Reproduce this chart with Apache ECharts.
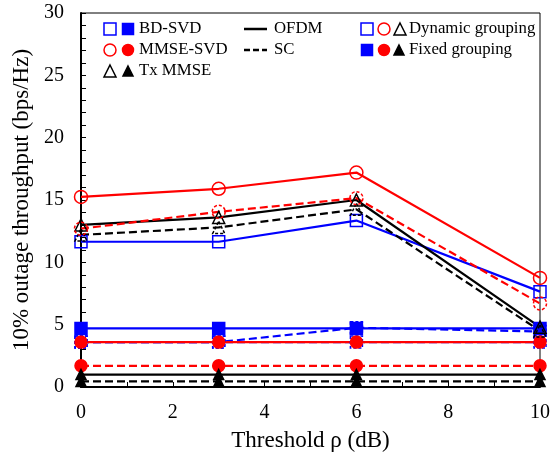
<!DOCTYPE html>
<html>
<head>
<meta charset="utf-8">
<script src="https://cdn.jsdelivr.net/npm/echarts@6/dist/echarts.min.js"></script>
<style>html,body{margin:0;padding:0;background:#fff}#c{width:560px;height:460px}</style>
</head>
<body>
<div id="c"></div>
<script>
// ---- data ----
const xValues = [0, 3, 6, 10];
const bdSvdOfdmDyn   = [11.65, 11.65, 13.35, 7.65];
const bdSvdScDyn     = [3.6, 3.6, 4.75, 4.45];
const mmseSvdOfdmDyn = [15.25, 15.9, 17.2, 8.75];
const mmseSvdScDyn   = [12.7, 14.05, 15.15, 6.7];
const txMmseOfdmDyn  = [13.0, 13.6, 15.0, 4.8];
const txMmseScDyn    = [12.2, 12.8, 14.25, 4.5];
const bdSvdOfdmFix   = [4.7, 4.7, 4.7, 4.7];
const bdSvdScFix     = [3.6, 3.6, 3.6, 3.6];
const mmseSvdOfdmFix = [3.6, 3.6, 3.6, 3.6];
const mmseSvdScFix   = [1.7, 1.7, 1.7, 1.7];
const txMmseOfdmFix  = [1.0, 1.0, 1.0, 1.0];
const txMmseScFix    = [0.45, 0.45, 0.45, 0.45];
const xTickLabels = [0, 2, 4, 6, 8, 10];
const yTickLabels = [0, 5, 10, 15, 20, 25, 30];

const FONT = 'Liberation Serif';
const BLUE = '#0000ff', RED = '#ff0000', BLACK = '#000000';

function mk(name, vals, color, dashed, symbol, filled, size) {
  return {
    name: name,
    type: 'line',
    data: xValues.map((x, i) => [x, vals[i]]),
    symbol: symbol,
    symbolSize: size,
    showAllSymbol: true,
    lineStyle: { color: color, width: 2.2, type: dashed ? [8, 4] : 'solid' },
    itemStyle: {
      color: filled ? color : 'rgba(255,255,255,0)',
      borderColor: color,
      borderWidth: 1.5,
      borderType: (dashed && !filled) ? [3, 2] : 'solid'
    },
    emphasis: { disabled: true },
    animation: false
  };
}

const series = [
  mk('BD-SVD SC fixed', bdSvdScFix, BLUE, true, 'rect', false, 12),
  mk('BD-SVD SC dyn', bdSvdScDyn, BLUE, true, 'rect', false, 12),
  mk('MMSE-SVD OFDM fixed', mmseSvdOfdmFix, RED, false, 'circle', true, 12),
  mk('MMSE-SVD SC fixed', mmseSvdScFix, RED, true, 'circle', true, 12),
  mk('Tx MMSE OFDM fixed', txMmseOfdmFix, BLACK, false, 'triangle', true, 10),
  mk('Tx MMSE SC fixed', txMmseScFix, BLACK, true, 'triangle', true, 10),
  mk('BD-SVD OFDM fixed', bdSvdOfdmFix, BLUE, false, 'rect', true, 12),
  mk('BD-SVD OFDM dyn', bdSvdOfdmDyn, BLUE, false, 'rect', false, 12),
  mk('Tx MMSE SC dyn', txMmseScDyn, BLACK, true, 'triangle', false, 12),
  mk('Tx MMSE OFDM dyn', txMmseOfdmDyn, BLACK, false, 'triangle', false, 12),
  mk('MMSE-SVD SC dyn', mmseSvdScDyn, RED, true, 'circle', false, 13),
  mk('MMSE-SVD OFDM dyn', mmseSvdOfdmDyn, RED, false, 'circle', false, 13)
];

// ---- legend (drawn as graphic) ----
function sq(cx, cy, s, color, filled) {
  return { type: 'rect', shape: { x: cx - s / 2, y: cy - s / 2, width: s, height: s },
    style: { fill: filled ? color : 'none', stroke: color, lineWidth: 1.5 } };
}
function ci(cx, cy, r, color, filled) {
  return { type: 'circle', shape: { cx: cx, cy: cy, r: r },
    style: { fill: filled ? color : 'none', stroke: color, lineWidth: 1.5 } };
}
function tri(cx, cy, s, color, filled) {
  return { type: 'polygon', shape: { points: [[cx, cy - s / 2], [cx + s / 2, cy + s / 2], [cx - s / 2, cy + s / 2]] },
    style: { fill: filled ? color : 'none', stroke: color, lineWidth: 1.5 } };
}
function tx(x, y, t) {
  return { type: 'text', x: x, y: y,
    style: { text: t, fontFamily: FONT, fontSize: 16.8, fill: '#000', textVerticalAlign: 'middle', textAlign: 'left' } };
}
function ln(x1, x2, y, dashed) {
  return { type: 'line', shape: { x1: x1, y1: y, x2: x2, y2: y },
    style: { stroke: '#000', lineWidth: 2.5, lineDash: dashed ? [6, 3] : null } };
}
const r1 = 29, r2 = 50, r3 = 71;
const legendEls = [
  sq(110, r1, 12, BLUE, false), sq(128, r1, 11, BLUE, true), tx(139, r1, 'BD-SVD'),
  ci(110, r2, 6, RED, false), ci(128, r2, 5.5, RED, true), tx(139, r2, 'MMSE-SVD'),
  tri(110, r3, 12, BLACK, false), tri(128, r3, 10, BLACK, true), tx(139, r3, 'Tx MMSE'),
  ln(244, 267, r1, false), tx(274, r1, 'OFDM'),
  ln(244, 267, r2, true), tx(274, r2, 'SC'),
  sq(367, r1, 12, BLUE, false), ci(384, r1, 6, RED, false), tri(400, r1, 12, BLACK, false), tx(409, r1, 'Dynamic grouping'),
  sq(367, r2, 11, BLUE, true), ci(384, r2, 5.5, RED, true), tri(399, r2, 10, BLACK, true), tx(409, r2, 'Fixed grouping')
];

const chart = echarts.init(document.getElementById('c'), null, { renderer: 'canvas' });
chart.setOption({
  animation: false,
  backgroundColor: '#fff',
  grid: { left: 81, top: 13, right: 20, bottom: 73, show: true, borderColor: '#000', borderWidth: 1, containLabel: false },
  xAxis: {
    type: 'value', min: 0, max: 10, interval: 1,
    axisLine: { show: true, onZero: false, lineStyle: { color: '#000', width: 2 } },
    axisTick: { show: true, inside: true, length: 5, lineStyle: { color: '#000', width: 1 } },
    axisLabel: { formatter: v => (xTickLabels.indexOf(v) >= 0 ? String(v) : ''), fontFamily: FONT, fontSize: 20, color: '#000', margin: 16 },
    splitLine: { show: false },
    name: 'Threshold ρ (dB)', nameLocation: 'middle', nameGap: 42,
    nameTextStyle: { fontFamily: FONT, fontSize: 23, color: '#000', fontWeight: 'normal' }
  },
  yAxis: {
    type: 'value', min: 0, max: 30, interval: 1,
    axisLine: { show: true, onZero: false, lineStyle: { color: '#000', width: 2 } },
    axisTick: { show: true, inside: true, length: 5, lineStyle: { color: '#000', width: 1 } },
    axisLabel: { formatter: v => (yTickLabels.indexOf(v) >= 0 ? String(v) : ''), fontFamily: FONT, fontSize: 20, color: '#000', margin: 17 },
    splitLine: { show: false },
    name: '10% outage throughput (bps/Hz)', nameLocation: 'middle', nameGap: 41, nameRotate: 90,
    nameTextStyle: { fontFamily: FONT, fontSize: 23, color: '#000', fontWeight: 'normal' }
  },
  series: series,
  graphic: legendEls
});
</script>
</body>
</html>
